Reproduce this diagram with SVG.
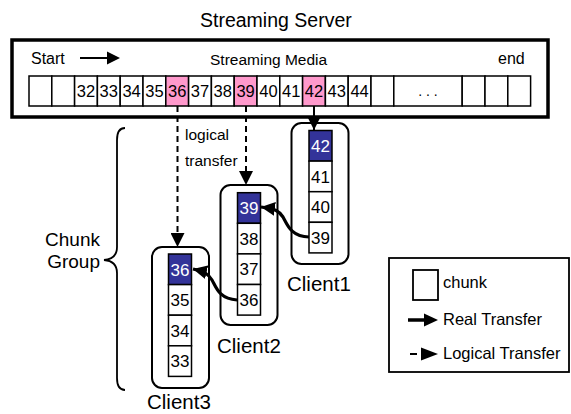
<svg xmlns="http://www.w3.org/2000/svg" width="571" height="414" viewBox="0 0 571 414">
<style>
text{font-family:"Liberation Sans",Arial,sans-serif;fill:#000}
.cell{fill:#fff;stroke:#000;stroke-width:1.5}
.pink{fill:#ff99cc;stroke:#000;stroke-width:1.5}
.navy{fill:#333399;stroke:#000;stroke-width:1.5}
.num{font-size:16.5px;text-anchor:middle}
.cnum{font-size:17px;text-anchor:middle}
.wnum{font-size:17px;text-anchor:middle;fill:#fff}
.client{fill:#fff;stroke:#000;stroke-width:2}
.lbl{font-size:20.5px}
.small{font-size:15.5px}
.leg{font-size:16.5px}
.dash{fill:none;stroke:#000;stroke-width:2;stroke-dasharray:6 4}
.solid{fill:none;stroke:#000;stroke-width:2}
.real{fill:none;stroke:#000;stroke-width:3.2}
</style>
<defs>
<marker id="head" markerUnits="userSpaceOnUse" markerWidth="14" markerHeight="14" refX="14" refY="7" orient="auto" viewBox="0 0 14 14">
<path d="M0,0 L14,7 L0,14 z" fill="#000"/>
</marker>
</defs>
<rect width="571" height="414" fill="#fff"/>
<text x="200" y="27" style="font-size:19.5px">Streaming Server</text>
<g id="server">
<rect x="12" y="40" width="536" height="77" fill="#fff" stroke="#000" stroke-width="3.5"/>
<text x="31" y="64" style="font-size:16px">Start</text>
<line x1="80" y1="58" x2="108" y2="58" stroke="#000" stroke-width="2"/>
<path d="M107,51.5 L120,58 L107,64.5 z" fill="#000"/>
<text x="210" y="65" style="font-size:15.5px">Streaming Media</text>
<text x="498" y="64" style="font-size:16px">end</text>
<rect class="cell" x="29" y="76" width="22.8" height="30"/>
<rect class="cell" x="51.8" y="76" width="22.8" height="30"/>
<rect class="cell" x="74.6" y="76" width="22.8" height="30"/>
<rect class="cell" x="97.4" y="76" width="22.8" height="30"/>
<rect class="cell" x="120.2" y="76" width="22.8" height="30"/>
<rect class="cell" x="143" y="76" width="22.8" height="30"/>
<rect class="pink" x="165.8" y="76" width="22.8" height="30"/>
<rect class="cell" x="188.6" y="76" width="22.8" height="30"/>
<rect class="cell" x="211.4" y="76" width="22.8" height="30"/>
<rect class="pink" x="234.2" y="76" width="22.8" height="30"/>
<rect class="cell" x="257" y="76" width="22.8" height="30"/>
<rect class="cell" x="279.8" y="76" width="22.8" height="30"/>
<rect class="pink" x="302.6" y="76" width="22.8" height="30"/>
<rect class="cell" x="325.4" y="76" width="22.8" height="30"/>
<rect class="cell" x="348.2" y="76" width="22.8" height="30"/>
<rect class="cell" x="371" y="76" width="22.8" height="30"/>
<rect class="cell" x="393.8" y="76" width="68.4" height="30"/>
<rect class="cell" x="462.2" y="76" width="22.8" height="30"/>
<rect class="cell" x="485" y="76" width="22.8" height="30"/>
<rect class="cell" x="507.8" y="76" width="22.8" height="30"/>
<text class="num" x="86" y="97">32</text>
<text class="num" x="108.8" y="97">33</text>
<text class="num" x="131.6" y="97">34</text>
<text class="num" x="154.4" y="97">35</text>
<text class="num" x="177.2" y="97">36</text>
<text class="num" x="200" y="97">37</text>
<text class="num" x="222.8" y="97">38</text>
<text class="num" x="245.6" y="97">39</text>
<text class="num" x="268.4" y="97">40</text>
<text class="num" x="291.2" y="97">41</text>
<text class="num" x="314" y="97">42</text>
<text class="num" x="336.8" y="97">43</text>
<text class="num" x="359.6" y="97">44</text>
<text class="num" x="428" y="96" style="font-size:14px">. . .</text>
</g>
<g id="client1">
<rect class="client" x="291.5" y="123" width="57" height="141" rx="10"/>
<rect class="navy" x="309" y="130.5" width="23" height="30.6"/>
<rect class="cell" x="309" y="161.1" width="23" height="30.6"/>
<rect class="cell" x="309" y="191.7" width="23" height="30.6"/>
<rect class="cell" x="309" y="222.3" width="23" height="30.6"/>
<text class="wnum" x="320.5" y="152">42</text>
<text class="cnum" x="320.5" y="182.6">41</text>
<text class="cnum" x="320.5" y="213.2">40</text>
<text class="cnum" x="320.5" y="243.8">39</text>
<text class="lbl" x="287" y="291">Client1</text>
</g>
<g id="client2">
<rect class="client" x="220.5" y="185" width="57" height="140" rx="10"/>
<rect class="navy" x="237.5" y="192.7" width="23" height="30.6"/>
<rect class="cell" x="237.5" y="223.3" width="23" height="30.6"/>
<rect class="cell" x="237.5" y="253.9" width="23" height="30.6"/>
<rect class="cell" x="237.5" y="284.5" width="23" height="30.6"/>
<text class="wnum" x="249" y="214.2">39</text>
<text class="cnum" x="249" y="244.8">38</text>
<text class="cnum" x="249" y="275.4">37</text>
<text class="cnum" x="249" y="306">36</text>
<text class="lbl" x="217" y="353">Client2</text>
</g>
<g id="client3">
<rect class="client" x="152" y="247" width="57" height="141" rx="10"/>
<rect class="navy" x="168.5" y="254" width="23" height="30.6"/>
<rect class="cell" x="168.5" y="284.6" width="23" height="30.6"/>
<rect class="cell" x="168.5" y="315.2" width="23" height="30.6"/>
<rect class="cell" x="168.5" y="345.8" width="23" height="30.6"/>
<text class="wnum" x="180" y="275.5">36</text>
<text class="cnum" x="180" y="306.1">35</text>
<text class="cnum" x="180" y="336.7">34</text>
<text class="cnum" x="180" y="367.3">33</text>
<text class="lbl" x="147" y="409">Client3</text>
</g>
<g id="chunk-group">
<path d="M125,128 Q117,128 117,140 L117,247 Q117,259 104,260 Q117,261 117,273 L117,378 Q117,390 125,390" fill="none" stroke="#000" stroke-width="1.8"/>
<text x="100" y="246" text-anchor="end" style="font-size:19px">Chunk</text>
<text x="100" y="268" text-anchor="end" style="font-size:19px">Group</text>
</g>
<g id="connectors">
<path class="dash" d="M177.5,106 L177.5,247" marker-end="url(#head)"/>
<path class="dash" d="M246,106 L246,185" marker-end="url(#head)"/>
<path class="solid" d="M314,106 L314,130" marker-end="url(#head)"/>
<text class="small" x="185" y="140">logical</text>
<text class="small" x="185" y="166">transfer</text>
<path class="real" d="M309,237 C291,237 287,224 283,217 C279,211 276,209 261,207" marker-end="url(#head)"/>
<path class="real" d="M237,300 C219,299 216,287 212,280 C209,275 206,272 193,269" marker-end="url(#head)"/>
</g>
<g id="legend">
<rect x="389" y="258" width="180" height="114" fill="#fff" stroke="#000" stroke-width="1.8"/>
<rect x="413" y="270" width="25" height="30" fill="#fff" stroke="#000" stroke-width="1.8"/>
<text class="leg" x="443" y="288">chunk</text>
<line x1="408" y1="320" x2="426" y2="320" stroke="#000" stroke-width="3.5"/>
<path d="M424,313.5 L438,320 L424,326.5 z" fill="#000"/>
<text class="leg" x="443" y="325">Real Transfer</text>
<line x1="410" y1="354" x2="417" y2="354" stroke="#000" stroke-width="2"/>
<path d="M421,347.5 L438,354 L421,360.5 z" fill="#000"/>
<text class="leg" x="443" y="359">Logical Transfer</text>
</g>
</svg>
